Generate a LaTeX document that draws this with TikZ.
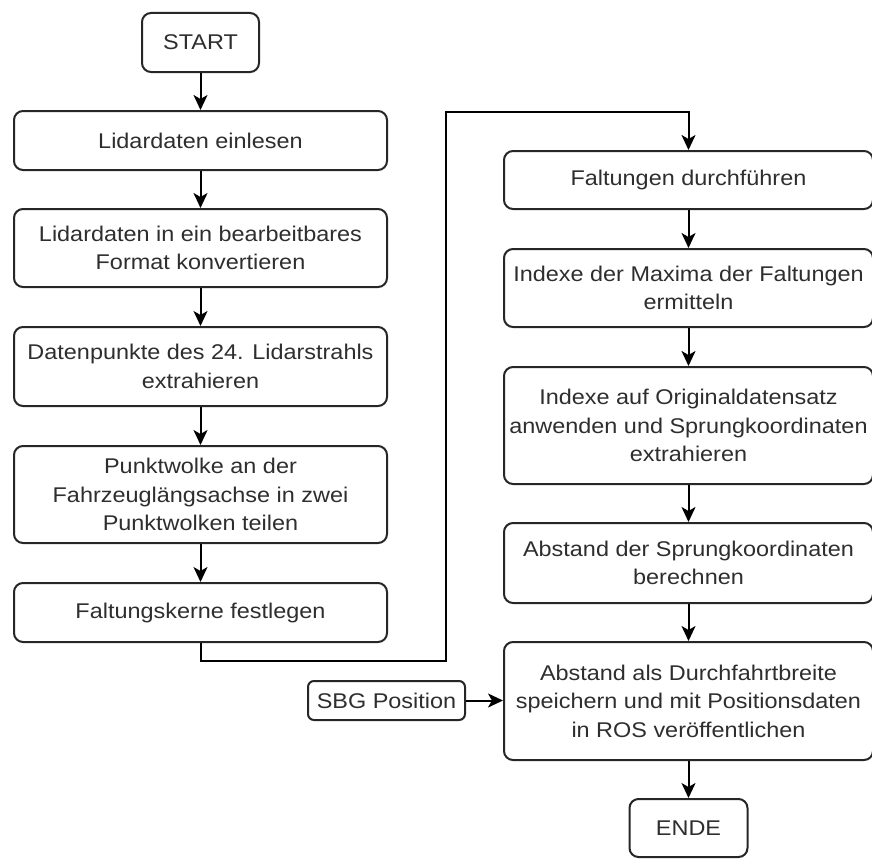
\documentclass[tikz,border=0pt]{standalone}
\usepackage{fontspec}
\setmainfont[FakeStretch=1.1]{Liberation Sans}
\usetikzlibrary{arrows.meta}
\definecolor{txt}{HTML}{2E2E2E}
\tikzset{
  box/.style={draw=black!85, line width=2pt, rounded corners=9pt, fill=white,
    align=center, text=txt, inner sep=0pt,
    font=\fontsize{21.3}{28.5}\selectfont},
  lbox/.style={box, minimum width=373pt},
  rbox/.style={box, minimum width=369pt},
  arr/.style={draw=black, line width=2pt, -{Stealth[length=15pt,width=14pt,inset=4pt]}}
}
\begin{document}
\begin{tikzpicture}[x=1pt,y=-1pt]
\useasboundingbox (0,0) rectangle (872,859);
% left column
\node[box, minimum width=117pt, minimum height=59pt] (start) at (200.5,42.5) {START};
\node[lbox, minimum height=59pt] (b1) at (200.5,140.5) {Lidardaten einlesen};
\node[lbox, minimum height=78pt] (b2) at (200.5,248) {Lidardaten in ein bearbeitbares\\Format konvertieren};
\node[lbox, minimum height=79pt] (b3) at (200.5,366.5) {Datenpunkte des 24. Lidarstrahls\\extrahieren};
\node[lbox, minimum height=97pt] (b4) at (200.5,494.5) {Punktwolke an der\\Fahrzeuglängsachse in zwei\\Punktwolken teilen};
\node[lbox, minimum height=59pt] (b5) at (200.5,612.5) {Faltungskerne festlegen};
% right column
\node[rbox, minimum height=58pt] (r1) at (688.5,180) {Faltungen durchführen};
\node[rbox, minimum height=78pt] (r2) at (688.5,288) {Indexe der Maxima der Faltungen\\ermitteln};
\node[rbox, minimum height=117pt] (r3) at (688.5,425.5) {Indexe auf Originaldatensatz\\anwenden und Sprungkoordinaten\\extrahieren};
\node[rbox, minimum height=80pt] (r4) at (688.5,563) {Abstand der Sprungkoordinaten\\berechnen};
\node[rbox, minimum height=118pt] (r5) at (688.5,701) {Abstand als Durchfahrtbreite\\speichern und mit Positionsdaten\\in ROS veröffentlichen};
\node[box, minimum width=118pt, minimum height=58pt] (ende) at (688.5,828) {ENDE};
\node[box, minimum width=157pt, minimum height=39pt, rounded corners=6pt] (sbg) at (386.5,700.5) {SBG Position};
% connectors
\draw[arr] (start) -- (b1);
\draw[arr] (b1) -- (b2);
\draw[arr] (b2) -- (b3);
\draw[arr] (b3) -- (b4);
\draw[arr] (b4) -- (b5);
\coordinate (c1) at (446,661);
\coordinate (c2) at (446,112);
\draw[arr] (b5.south) |- (c1) -- (c2) -| (r1.north);
\draw[arr] (r1) -- (r2);
\draw[arr] (r2) -- (r3);
\draw[arr] (r3) -- (r4);
\draw[arr] (r4) -- (r5);
\draw[arr] (r5) -- (ende);
\draw[arr] (sbg.east) -- (sbg.east -| r5.west);
\end{tikzpicture}
\end{document}
